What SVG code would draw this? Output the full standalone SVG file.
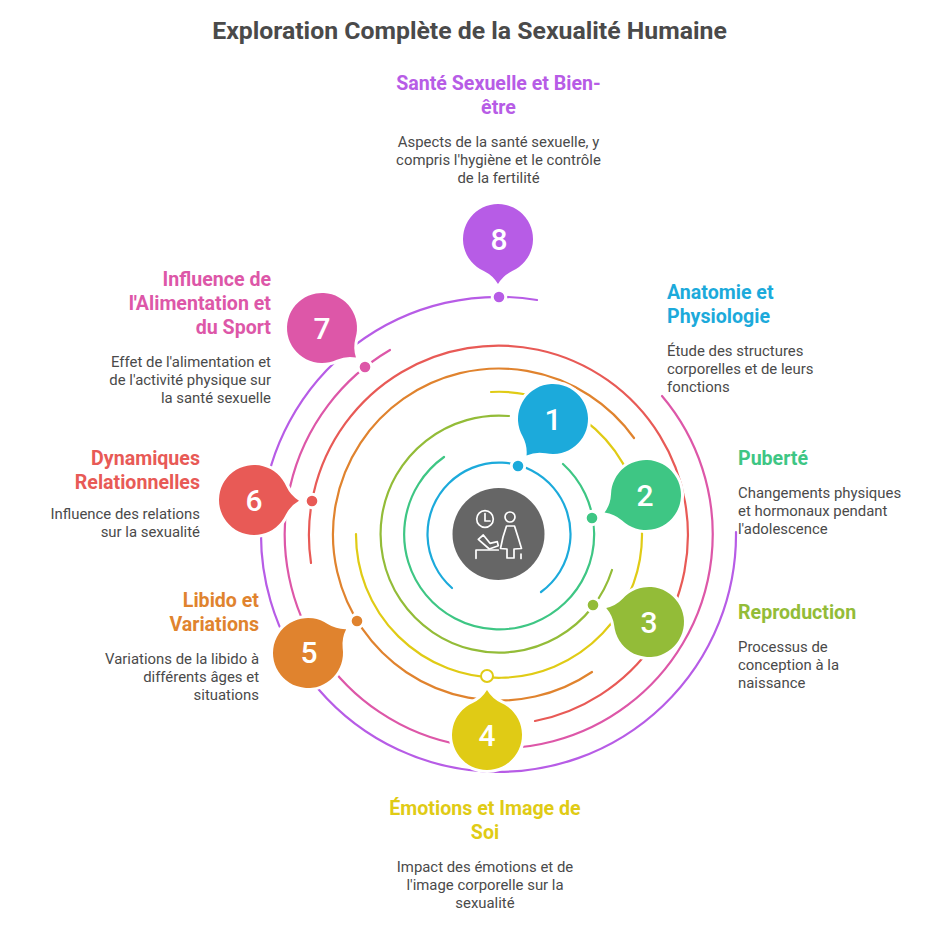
<svg xmlns="http://www.w3.org/2000/svg" width="938" height="938" viewBox="0 0 938 938">
<style>
text{font-family:Roboto,"Liberation Sans",sans-serif}
.title{font-size:24.8px;font-weight:700;fill:#4a4a4a;text-anchor:middle}
.h{font-size:19.6px;font-weight:700}
.b{font-size:14.9px;fill:#4a4a4a}
.m{text-anchor:middle}.e{text-anchor:end}
.n{font-size:30px;font-weight:500;fill:#fff;text-anchor:middle}
.ring{fill:none;stroke-width:2.2;stroke-linecap:round}
.halo{stroke:#fff;stroke-width:6}
.dot{stroke:#fff;stroke-width:3}
.ic{fill:none;stroke:#fff;stroke-width:1.7;stroke-linejoin:round;stroke-linecap:round}
</style>
<defs><path id="drop" d="M32,-14.2 Q36.500,-5 45,0 Q36.500,5 32,14.2 A35,35 0 1 1 32,-14.2Z"/></defs>
<rect width="938" height="938" fill="#fff"/>
<text class="title" x="469.500" y="39">Exploration Complète de la Sexualité Humaine</text>
<g id="connectors">
<path class="ring" stroke="#1caadb" d="M541,592A71.5,71.5 0 1 0 452,588"/>
<path class="ring" stroke="#3ec684" d="M444,457A95,95 0 1 0 563,464"/>
<path class="ring" stroke="#93bc38" d="M509,416A118.5,118.5 0 1 0 612,570"/>
<path class="ring" stroke="#e0cb15" d="M356,534A143,143 0 1 0 491,392"/>
<path class="ring" stroke="#e0832e" d="M634,438A166,166 0 1 0 592,672"/>
<path class="ring" stroke="#e85a56" d="M311,563A189.5,189.5 0 1 1 535,721"/>
<path class="ring" stroke="#dd57a8" d="M662,396A214,214 0 1 1 390,350"/>
<path class="ring" stroke="#b75ce6" d="M736,532A237.5,237.5 0 1 1 537,300"/>
</g>
<g id="center"><circle cx="498.500" cy="534" r="46" fill="#666"/>
<g class="ic"><circle cx="485" cy="519" r="8.300"/><path d="M485,513.500V521H490"/><circle cx="510" cy="517" r="5"/><path d="M506.500,526 L503,537 L500.500,548.500 L507,549 V558 H514 V549 L521.500,548.500 L518,537 L514.500,526Z"/><path d="M521,554V558.500"/><path d="M476,558.300V550H498.300"/><path d="M478.300,539.300 L483.300,535 L490,543.300 L497.300,541.700 L498.300,545.700 L489.300,549Z"/></g></g>
<g id="node1" fill="#1caadb"><use href="#drop" class="halo" transform="translate(553,419) rotate(126)"/><use href="#drop" transform="translate(553,419) rotate(126)"/><circle class="dot" cx="518" cy="466" r="6.800"/><text class="n" x="553" y="430">1</text>
<text class="h" x="667" y="299">Anatomie et</text><text class="h" x="667" y="323">Physiologie</text>
<text class="b" x="667" y="356">Étude des structures</text><text class="b" x="667" y="374">corporelles et de leurs</text><text class="b" x="667" y="392">fonctions</text></g>
<g id="node2" fill="#3ec684"><use href="#drop" class="halo" transform="translate(646,495) rotate(157)"/><use href="#drop" transform="translate(646,495) rotate(157)"/><circle class="dot" cx="592" cy="518" r="6.800"/><text class="n" x="645" y="506">2</text>
<text class="h" x="738" y="465">Puberté</text>
<text class="b" x="738" y="498">Changements physiques</text><text class="b" x="738" y="516">et hormonaux pendant</text><text class="b" x="738" y="534">l'adolescence</text></g>
<g id="node3" fill="#93bc38"><use href="#drop" class="halo" transform="translate(649,622) rotate(198)"/><use href="#drop" transform="translate(649,622) rotate(198)"/><circle class="dot" cx="593" cy="605" r="6.800"/><text class="n" x="649" y="633">3</text>
<text class="h" x="738" y="619">Reproduction</text>
<text class="b" x="738" y="652">Processus de</text><text class="b" x="738" y="670">conception à la</text><text class="b" x="738" y="688">naissance</text></g>
<g id="node4" fill="#e0cb15"><use href="#drop" class="halo" transform="translate(487,735) rotate(270)"/><use href="#drop" transform="translate(487,735) rotate(270)"/><circle cx="487" cy="676" r="6" fill="#fff" stroke="#e0cb15" stroke-width="2"/><text class="n" x="487" y="746">4</text>
<text class="h m" x="485" y="815">Émotions et Image de</text><text class="h m" x="485" y="839">Soi</text>
<text class="b m" x="485" y="872">Impact des émotions et de</text><text class="b m" x="485" y="890">l'image corporelle sur la</text><text class="b m" x="485" y="908">sexualité</text></g>
<g id="node5" fill="#e0832e"><use href="#drop" class="halo" transform="translate(308,653) rotate(-32)"/><use href="#drop" transform="translate(308,653) rotate(-32)"/><circle class="dot" cx="357" cy="621" r="6.800"/><text class="n" x="309" y="663">5</text>
<text class="h e" x="259" y="607">Libido et</text><text class="h e" x="259" y="631">Variations</text>
<text class="b e" x="259" y="664">Variations de la libido à</text><text class="b e" x="259" y="682">différents âges et</text><text class="b e" x="259" y="700">situations</text></g>
<g id="node6" fill="#e85a56"><use href="#drop" class="halo" transform="translate(254,500) rotate(1)"/><use href="#drop" transform="translate(254,500) rotate(1)"/><circle class="dot" cx="312" cy="501" r="6.800"/><text class="n" x="254" y="511">6</text>
<text class="h e" x="200" y="465">Dynamiques</text><text class="h e" x="200" y="489">Relationnelles</text>
<text class="b e" x="200" y="519">Influence des relations</text><text class="b e" x="200" y="537">sur la sexualité</text></g>
<g id="node7" fill="#dd57a8"><use href="#drop" class="halo" transform="translate(322,328) rotate(41)"/><use href="#drop" transform="translate(322,328) rotate(41)"/><circle class="dot" cx="365" cy="367" r="6.800"/><text class="n" x="322" y="339">7</text>
<text class="h e" x="271" y="286">Influence de</text><text class="h e" x="271" y="310">l'Alimentation et</text><text class="h e" x="271" y="334">du Sport</text>
<text class="b e" x="271" y="367">Effet de l'alimentation et</text><text class="b e" x="271" y="385">de l'activité physique sur</text><text class="b e" x="271" y="403">la santé sexuelle</text></g>
<g id="node8" fill="#b75ce6"><use href="#drop" class="halo" transform="translate(498,239) rotate(90)"/><use href="#drop" transform="translate(498,239) rotate(90)"/><circle class="dot" cx="499" cy="297" r="6.800"/><text class="n" x="499" y="250">8</text>
<text class="h m" x="498.500" y="90">Santé Sexuelle et Bien-</text><text class="h m" x="498.500" y="114">être</text>
<text class="b m" x="498.500" y="147">Aspects de la santé sexuelle, y</text><text class="b m" x="498.500" y="165">compris l'hygiène et le contrôle</text><text class="b m" x="498.500" y="183">de la fertilité</text></g>
</svg>
